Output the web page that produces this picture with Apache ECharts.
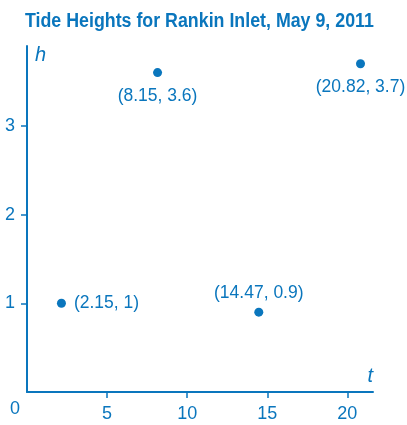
<!DOCTYPE html>
<html><head><meta charset="utf-8">
<script src="https://cdn.jsdelivr.net/npm/echarts@6/dist/echarts.min.js"></script>
<style>html,body{margin:0;padding:0;background:#fff}#c{width:407px;height:425px}</style>
</head><body><div id="c"></div>
<script>
var chartTitle = 'Tide Heights for Rankin Inlet, May 9, 2011';
var pointsT = [2.15, 8.15, 14.47, 20.82];
var pointsH = [1, 3.6, 0.9, 3.7];
var pointLabels = ['(2.15, 1)', '(8.15, 3.6)', '(14.47, 0.9)', '(20.82, 3.7)'];
var labelPos = ['right', 'bottom', 'top', 'bottom'];
var labelDist = [8, 10, 5, 10];
var xTicks = [5, 10, 15, 20];
var yTicks = [1, 2, 3];
var C = '#0a76bd';
var F = 'Liberation Sans, Arial, sans-serif';

var data = pointsT.map(function (t, i) {
  return {
    value: [t, pointsH[i]],
    label: { show: true, position: labelPos[i], formatter: pointLabels[i], distance: labelDist[i] }
  };
});

var chart = echarts.init(document.getElementById('c'));
chart.setOption({
  animation: false,
  grid: { left: 27, right: 34, top: 46, bottom: 33, containLabel: false },
  xAxis: {
    type: 'value', min: 0, max: 21.6, interval: 5,
    axisLine: { show: true, lineStyle: { color: C, width: 2 } },
    axisTick: { show: true, length: 6, lineStyle: { color: C, width: 1.5 },
      customValues: xTicks },
    axisLabel: { color: C, fontSize: 18, fontFamily: F, margin: 13,
      customValues: xTicks },
    splitLine: { show: false },
    name: 't', nameLocation: 'end', nameGap: 0,
    nameTextStyle: { color: C, fontStyle: 'italic', fontSize: 20, fontFamily: F, verticalAlign: 'bottom', align: 'right', padding: [0, 0, 6, 0] }
  },
  yAxis: {
    type: 'value', min: 0, max: 3.9, interval: 1,
    axisLine: { show: true, lineStyle: { color: C, width: 2 } },
    axisTick: { show: true, length: 6, lineStyle: { color: C, width: 1.5 },
      customValues: yTicks },
    axisLabel: { color: C, fontSize: 18, fontFamily: F, margin: 12,
      customValues: yTicks },
    splitLine: { show: false },
    name: 'h', nameLocation: 'end', nameGap: 1,
    nameTextStyle: { color: C, fontStyle: 'italic', fontSize: 20, fontFamily: F, align: 'left', verticalAlign: 'top', padding: [0, 0, 0, 8] }
  },
  graphic: [{
    type: 'text', x: 25, y: 11, scaleX: 0.89,
    style: { text: chartTitle, fill: C, font: 'bold 20px ' + F, textVerticalAlign: 'top' }
  }, {
    type: 'text', x: 10, y: 400,
    style: { text: '0', fill: C, font: '18px ' + F, textVerticalAlign: 'top' }
  }],
  series: [{
    type: 'scatter',
    symbolSize: 9,
    itemStyle: { color: C, opacity: 1 },
    label: { color: C, fontSize: 17.5, fontFamily: F },
    data: data
  }]
});
</script></body></html>
